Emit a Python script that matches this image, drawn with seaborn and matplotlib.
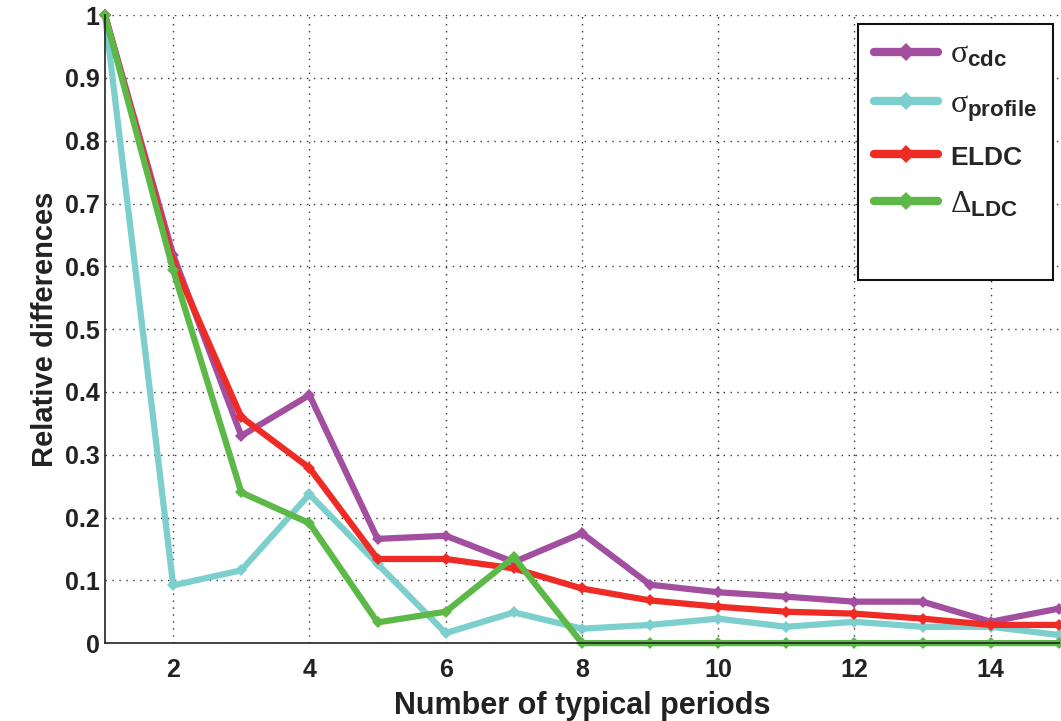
import numpy as np
import pandas as pd
import matplotlib
matplotlib.use("Agg")
import matplotlib.pyplot as plt
from matplotlib.ticker import MultipleLocator
from matplotlib.lines import Line2D
import seaborn as sns

periods = list(range(1, 16))
sigma_cdc = [1.0, 0.618, 0.330, 0.395, 0.166, 0.171, 0.129, 0.175, 0.093, 0.081, 0.074, 0.066, 0.066, 0.034, 0.055]
sigma_profile = [1.0, 0.092, 0.116, 0.237, 0.126, 0.016, 0.049, 0.023, 0.029, 0.039, 0.026, 0.034, 0.026, 0.026, 0.013]
eldc = [1.0, 0.607, 0.360, 0.279, 0.134, 0.134, 0.119, 0.087, 0.068, 0.058, 0.050, 0.047, 0.039, 0.029, 0.029]
delta_ldc = [1.0, 0.594, 0.240, 0.191, 0.033, 0.050, 0.137, 0.0, 0.0, 0.0, 0.0, 0.0, 0.0, 0.0, 0.0]

labels = [r'$\sigma_{\mathbf{cdc}}$', r'$\sigma_{\mathbf{profile}}$', r'$\mathbf{ELDC}$', r'$\Delta_{\mathbf{LDC}}$']
colors = ['#a34f9f', '#7ccfcc', '#ee2b24', '#5cb947']
ytick_labels = ['0', '0.1', '0.2', '0.3', '0.4', '0.5', '0.6', '0.7', '0.8', '0.9', '1']

sns.set_style('white')
plt.rcParams['font.family'] = ['Liberation Sans', 'DejaVu Sans']
plt.rcParams['mathtext.fontset'] = 'custom'
plt.rcParams['mathtext.rm'] = 'Liberation Serif'
plt.rcParams['mathtext.it'] = 'Liberation Serif'
plt.rcParams['mathtext.bf'] = 'Liberation Sans:bold'

df = pd.DataFrame({
    'period': periods * 4,
    'value': sigma_cdc + sigma_profile + eldc + delta_ldc,
    'series': sum([[l] * len(periods) for l in labels], []),
})

fig = plt.figure(figsize=(10.61, 7.21), dpi=100)
ax = fig.add_axes([0.099, 0.108, 0.899, 0.871])

sns.lineplot(data=df, x='period', y='value', hue='series', hue_order=labels,
             palette=colors, marker='D', markersize=6.5, markeredgewidth=0,
             linewidth=4.5, ax=ax, legend=True)
for line in ax.lines:
    line.set_clip_on(False)

ax.set_xlim(1, 15)
ax.set_ylim(0, 1)
ax.xaxis.set_major_locator(MultipleLocator(2))
ax.xaxis.set_minor_locator(MultipleLocator(0.1))
ax.set_yticks(np.arange(0, 1.01, 0.1))
ax.set_yticklabels(ytick_labels)
ax.tick_params(axis='both', which='major', direction='in', length=6, width=1,
               labelsize=18, colors='#222222')
ax.tick_params(axis='y', which='major', pad=4)
ax.tick_params(axis='x', which='major', pad=11)
ax.tick_params(axis='x', which='minor', direction='in', length=3, width=0.8, colors='#444444')
for lab in ax.get_xticklabels() + ax.get_yticklabels():
    lab.set_fontweight('bold')

ax.grid(True, which='major', linestyle=(0, (1, 4)), color='#333333', linewidth=1)
ax.set_axisbelow(True)
for side in ['top', 'right']:
    ax.spines[side].set_visible(False)
for side in ['left', 'bottom']:
    ax.spines[side].set_color('#222222')
    ax.spines[side].set_linewidth(1.2)

ax.set_xlabel('Number of typical periods', fontsize=22, fontweight='bold', labelpad=6, color='#222222')
ax.set_ylabel('Relative differences', fontsize=21, fontweight='bold', labelpad=4, color='#222222')

# extra blank entry keeps the empty space at the bottom of the legend box
handles, labs = ax.get_legend_handles_labels()
handles.append(Line2D([], [], alpha=0))
labs.append(' ')
leg = ax.legend(handles, labs, loc='upper right', bbox_to_anchor=(0.994, 0.986),
                borderaxespad=0, fontsize=23, handlelength=2.0, handletextpad=0.4,
                labelspacing=0.6, borderpad=0.5,
                fancybox=False, framealpha=1, edgecolor='#111111')
leg.get_frame().set_linewidth(1.5)
leg.get_texts()[2].set_fontsize(19)
leg.get_texts()[4].set_fontsize(12)
for h in leg.legend_handles[:4]:
    h.set_linewidth(6)
    h.set_markersize(9)

fig.savefig('out.png', dpi=100)
